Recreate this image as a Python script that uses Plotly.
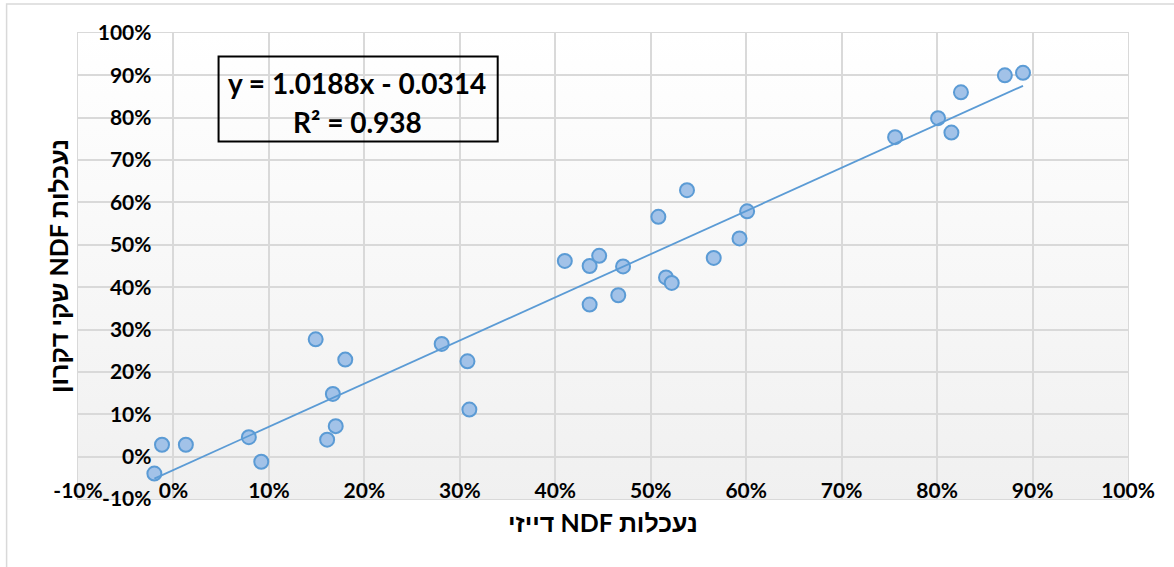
import base64
import plotly.graph_objects as go

# Data (fractions, shown as %)
ndf_daisy = [-0.020, -0.012, 0.013, 0.079, 0.092, 0.149, 0.180, 0.167, 0.161, 0.170,
             0.281, 0.308, 0.310, 0.410, 0.436, 0.446, 0.436, 0.471, 0.466, 0.508,
             0.538, 0.516, 0.522, 0.566, 0.593, 0.601, 0.756, 0.801, 0.815, 0.825,
             0.871, 0.890]
ndf_dacron = [-0.040, 0.028, 0.028, 0.046, -0.012, 0.277, 0.229, 0.148, 0.040, 0.072,
              0.266, 0.225, 0.111, 0.462, 0.450, 0.474, 0.359, 0.449, 0.381, 0.566,
              0.629, 0.423, 0.410, 0.469, 0.515, 0.579, 0.754, 0.799, 0.765, 0.860,
              0.900, 0.906]

slope = 1.0188
intercept = -0.0314
r_squared = 0.938

tick_vals = [i / 10 for i in range(-1, 11)]
tick_text = ["-10%", "0%", "10%", "20%", "30%", "40%", "50%", "60%", "70%", "80%", "90%", "100%"]

x_title = "נעכלות NDF דייזי"
y_title = "נעכלות NDF שקי דקרון"
eq_line1 = "y = 1.0188x - 0.0314"
eq_line2 = "R² = 0.938"

RLE, PDF = "\u202B", "\u202C"  # right-to-left embedding for Hebrew titles

FONT = "Lato, 'Liberation Sans', 'DejaVu Sans', sans-serif"
GRID = "#d9d9d9"

# trendline over data x range
x_lo, x_hi = min(ndf_daisy), max(ndf_daisy)
trend_x = [x_lo, x_hi]
trend_y = [slope * v + intercept for v in trend_x]

fig = go.Figure()
fig.add_trace(go.Scatter(
    x=ndf_daisy, y=ndf_dacron, mode="markers",
    marker=dict(size=14, color="#a2c2e8", line=dict(color="#5b9bd5", width=2)),
    showlegend=False, hoverinfo="x+y",
))
fig.add_trace(go.Scatter(
    x=trend_x, y=trend_y, mode="lines",
    line=dict(color="#5b9bd5", width=1.8),
    showlegend=False, hoverinfo="skip",
))

svg = ("<svg xmlns='http://www.w3.org/2000/svg' width='100' height='100' preserveAspectRatio='none'>"
       "<defs><linearGradient id='g' x1='0' y1='0' x2='0' y2='1'>"
       "<stop offset='0' stop-color='#ffffff'/><stop offset='1' stop-color='#f0f0f0'/>"
       "</linearGradient></defs><rect width='100' height='100' fill='url(#g)'/></svg>")
svg_uri = "data:image/svg+xml;base64," + base64.b64encode(svg.encode()).decode()

axis_common = dict(
    range=[-0.1, 1.0], tickmode="array", tickvals=tick_vals, ticktext=tick_text,
    showgrid=True, gridcolor=GRID, gridwidth=2, zeroline=False, showline=False,
    ticks="", tickfont=dict(family=FONT, size=21, color="#000000", weight="bold"),
    anchor="free", position=0.1 / 1.1, fixedrange=True,
)

fig.update_layout(
    width=1174, height=567,
    margin=dict(l=78, r=46, t=33, b=68),
    paper_bgcolor="#ffffff", plot_bgcolor="#ffffff",
    xaxis=dict(**axis_common, ticklabelstandoff=19),
    yaxis=dict(**axis_common, ticklabelstandoff=22),
    images=[dict(source=svg_uri, xref="x", yref="y", x=-0.1, y=1.0, sizex=1.1, sizey=1.1,
                 xanchor="left", yanchor="top", sizing="stretch", layer="below")],
    shapes=[
        dict(type="rect", xref="paper", yref="paper", x0=0, x1=1, y0=0, y1=1,
             line=dict(color=GRID, width=2), layer="below"),
        dict(type="rect", xref="paper", yref="paper", x0=-0.068, x1=1.2, y0=-0.3, y1=1.062,
             line=dict(color="#d9d9d9", width=1.5), layer="below"),
        dict(type="rect", xref="paper", yref="paper",
             x0=(218.5 - 78) / 1049.5, x1=(497.5 - 78) / 1049.5,
             y0=(499 - 141.5) / 466, y1=(499 - 56.5) / 466,
             line=dict(color="#000000", width=2), layer="above"),
    ],
    annotations=[
        dict(text=eq_line1, xref="paper", yref="paper", x=(357 - 78) / 1049.5, y=(499 - 83) / 466,
             showarrow=False, xanchor="center", yanchor="middle",
             font=dict(family=FONT, size=28, color="#000000", weight="bold")),
        dict(text=eq_line2, xref="paper", yref="paper", x=(357 - 78) / 1049.5, y=(499 - 122) / 466,
             showarrow=False, xanchor="center", yanchor="middle",
             font=dict(family=FONT, size=28, color="#000000", weight="bold")),
        dict(text=RLE + x_title + PDF, xref="paper", yref="paper", x=0.5, y=(499 - 522) / 466,
             showarrow=False, xanchor="center", yanchor="middle",
             font=dict(family=FONT, size=25, color="#000000", weight="bold")),
        dict(text=RLE + y_title + PDF, xref="paper", yref="paper", x=(58 - 78) / 1049.5, y=0.5,
             showarrow=False, xanchor="center", yanchor="middle", textangle=-90,
             font=dict(family=FONT, size=25, color="#000000", weight="bold")),
    ],
)

fig.write_html(
    "out.html",
    config={"displayModeBar": False},
    post_script="document.body.style.margin='0';document.body.style.overflow='hidden';",
)
